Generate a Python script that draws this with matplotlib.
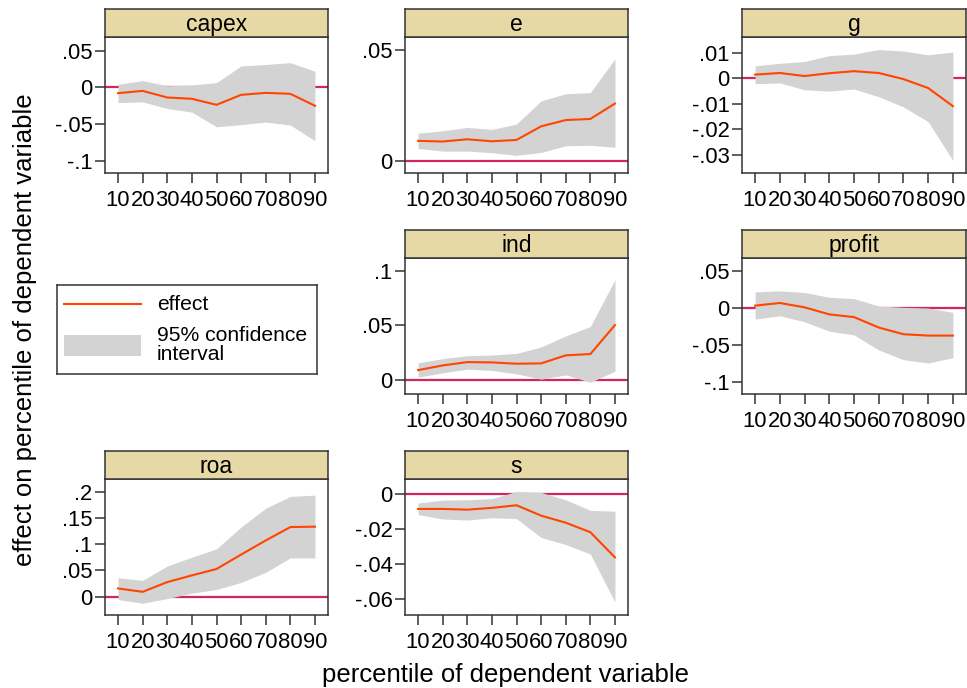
import numpy as np
import matplotlib
matplotlib.use('Agg')
import matplotlib.pyplot as plt
from matplotlib.patches import Rectangle
from matplotlib.lines import Line2D

plt.rcParams['font.family'] = ['Liberation Sans', 'DejaVu Sans']

# percentiles on the x axis
pct = [10, 20, 30, 40, 50, 60, 70, 80, 90]

# effect, lower and upper 95% bounds per dependent variable
capex_eff = [-0.0081, -0.0050, -0.0140, -0.0158, -0.0240, -0.0104, -0.0077, -0.0090, -0.0253]
capex_lo = [-0.021, -0.020, -0.029, -0.034, -0.054, -0.051, -0.0475, -0.0516, -0.073]
capex_hi = [0.004, 0.009, 0.002, 0.003, 0.0063, 0.029, 0.031, 0.0335, 0.0217]

e_eff = [0.0091, 0.0088, 0.0098, 0.0089, 0.0095, 0.0156, 0.0184, 0.0189, 0.0258]
e_lo = [0.0057, 0.0045, 0.0045, 0.0038, 0.0026, 0.0039, 0.0069, 0.0071, 0.0062]
e_hi = [0.0125, 0.0136, 0.0151, 0.0142, 0.0166, 0.0270, 0.0302, 0.0307, 0.0458]

g_eff = [0.00145, 0.0021, 0.0009, 0.0020, 0.0028, 0.0021, -0.0003, -0.0038, -0.0109]
g_lo = [-0.0021, -0.0018, -0.0045, -0.0050, -0.0042, -0.0072, -0.0112, -0.0170, -0.0322]
g_hi = [0.0049, 0.0059, 0.0066, 0.0089, 0.0095, 0.0113, 0.0107, 0.0092, 0.0103]

ind_eff = [0.0087, 0.0130, 0.0161, 0.0158, 0.0146, 0.0149, 0.0223, 0.0235, 0.0502]
ind_lo = [0.0022, 0.0062, 0.0096, 0.0084, 0.0053, 0.0003, 0.0043, -0.0025, 0.0077]
ind_hi = [0.0155, 0.0192, 0.0220, 0.0226, 0.0241, 0.0300, 0.0402, 0.0489, 0.0920]

profit_eff = [0.0032, 0.0068, 0.0009, -0.0086, -0.0123, -0.0264, -0.0355, -0.0373, -0.0373]
profit_lo = [-0.0150, -0.0105, -0.0186, -0.0314, -0.0364, -0.0568, -0.0700, -0.0745, -0.0673]
profit_hi = [0.0218, 0.0232, 0.0210, 0.0145, 0.0127, 0.0027, 0.0009, 0.0000, -0.0059]

roa_eff = [0.0155, 0.0090, 0.0277, 0.0406, 0.0529, 0.0806, 0.1077, 0.1335, 0.1342]
roa_lo = [-0.0058, -0.0129, -0.0039, 0.0065, 0.0135, 0.0271, 0.0465, 0.0742, 0.0742]
roa_hi = [0.0361, 0.0310, 0.0587, 0.0755, 0.0916, 0.1335, 0.1697, 0.1923, 0.1948]

s_eff = [-0.0086, -0.0086, -0.0090, -0.0080, -0.0065, -0.0124, -0.0164, -0.0218, -0.0361]
s_lo = [-0.0118, -0.0143, -0.0149, -0.0136, -0.0141, -0.0248, -0.0288, -0.0342, -0.0615]
s_hi = [-0.0052, -0.0036, -0.0034, -0.0027, 0.0013, 0.0008, -0.0034, -0.0094, -0.0099]

yticks = {
    'capex': [-0.1, -0.05, 0, 0.05],
    'e': [0, 0.05],
    'g': [-0.03, -0.02, -0.01, 0, 0.01],
    'ind': [0, 0.05, 0.1],
    'profit': [-0.1, -0.05, 0, 0.05],
    'roa': [0, 0.05, 0.1, 0.15, 0.2],
    's': [-0.06, -0.04, -0.02, 0],
}

panels = [
    # name, eff, lo, hi, col, row, ylim
    ('capex', capex_eff, capex_lo, capex_hi, 0, 0, (-0.117, 0.0685)),
    ('e', e_eff, e_lo, e_hi, 1, 0, (-0.0053, 0.0556)),
    ('g', g_eff, g_lo, g_hi, 2, 0, (-0.0371, 0.0162)),
    ('ind', ind_eff, ind_lo, ind_hi, 1, 1, (-0.0133, 0.112)),
    ('profit', profit_eff, profit_lo, profit_hi, 2, 1, (-0.1164, 0.0677)),
    ('roa', roa_eff, roa_lo, roa_hi, 0, 2, (-0.0355, 0.2258)),
    ('s', s_eff, s_lo, s_hi, 1, 2, (-0.0688, 0.0084)),
]

W, H = 967, 688
col_left = [105, 405, 742]
col_w = [223, 223, 224]
row_top = [37, 258, 479]
plot_h = 136
head_h = 28

FS = 15.8      # tick labels
FS_HEAD = 16.5
FS_LEG = 15.2
FS_TITLE = 18.5
HEAD = '#e6d9a6'
CI = '#d3d3d3'
EFF = '#ff4500'
ZERO = '#d0285a'
EDGE = '#333333'


def stata_fmt(v):
    s = '%g' % round(v, 6)
    if s.startswith('0.'):
        s = s[1:]
    elif s.startswith('-0.'):
        s = '-' + s[2:]
    return s


fig = plt.figure(figsize=(W / 100, H / 100), dpi=100)

for name, eff, lo, hi, c, r, ylim in panels:
    x0 = col_left[c]
    w = col_w[c]
    y0 = row_top[r]
    ax = fig.add_axes([x0 / W, 1 - (y0 + plot_h) / H, w / W, plot_h / H])
    ax.axhline(0, color=ZERO, lw=1.6, zorder=1)
    ax.fill_between(pct, lo, hi, color=CI, lw=0, zorder=2)
    ax.plot(pct, eff, color=EFF, lw=1.5, zorder=3)
    ax.set_xlim(4.7, 95.3)
    ax.set_ylim(*ylim)
    ax.set_xticks(pct)
    ax.set_xticklabels([str(p) for p in pct])
    ax.set_yticks(yticks[name])
    ax.set_yticklabels([stata_fmt(v) for v in yticks[name]])
    ax.tick_params(labelsize=FS, length=7, width=1.1, color=EDGE)
    ax.tick_params(axis='x', pad=5.5)
    ax.tick_params(axis='y', pad=2)
    for sp in ax.spines.values():
        sp.set_color(EDGE)
        sp.set_linewidth(1.1)

    hax = fig.add_axes([x0 / W, 1 - y0 / H, w / W, head_h / H])
    hax.set_facecolor(HEAD)
    hax.set_xticks([])
    hax.set_yticks([])
    for sp in hax.spines.values():
        sp.set_color(EDGE)
        sp.set_linewidth(1.1)
    hax.text(0.5, 0.45, name, ha='center', va='center', fontsize=FS_HEAD, transform=hax.transAxes)

# legend box
lax = fig.add_axes([57 / W, 1 - 374 / H, 260 / W, 89 / H])
lax.set_xlim(0, 260)
lax.set_ylim(89, 0)
lax.set_xticks([])
lax.set_yticks([])
for sp in lax.spines.values():
    sp.set_color(EDGE)
    sp.set_linewidth(1.1)
lax.add_line(Line2D([7, 84], [19, 19], color=EFF, lw=1.5))
lax.add_patch(Rectangle((7, 50), 77, 21, color=CI, lw=0))
lax.text(100, 19, 'effect', fontsize=FS_LEG, va='center', ha='left')
lax.text(100, 60, '95% confidence\ninterval', fontsize=FS_LEG, va='center', ha='left', linespacing=0.95)

fig.text(25 / W, 1 - 330 / H, 'effect on percentile of dependent variable', rotation=90,
         ha='center', va='center', fontsize=FS_TITLE)
fig.text(505 / W, 1 - 675 / H, 'percentile of dependent variable', ha='center', va='center',
         fontsize=FS_TITLE)

fig.savefig('out.png', dpi=100)
